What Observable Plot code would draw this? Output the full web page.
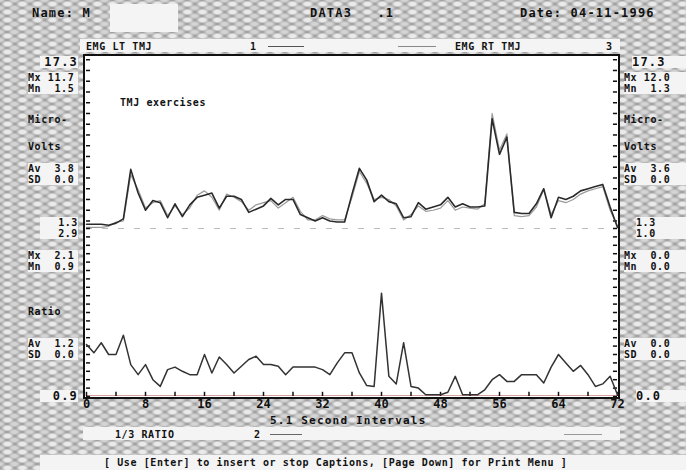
<!DOCTYPE html>
<html><head><meta charset="utf-8">
<script src="https://cdn.jsdelivr.net/npm/d3@7"></script>
<script src="https://cdn.jsdelivr.net/npm/@observablehq/plot@0.6"></script>
<style>
html,body{margin:0;padding:0;background:#a6a6a6;}
#screen{position:relative;width:686px;height:470px;overflow:hidden;
 background-color:#a2a2a2;
 background-image:radial-gradient(ellipse at center, rgba(238,238,238,.95) 0 28%, rgba(238,238,238,0) 62%),
   radial-gradient(ellipse at center, rgba(225,225,225,.8) 0 25%, rgba(225,225,225,0) 60%);
 background-size:15px 8px,15px 8px;background-position:0 0,7px 4px;
 font-family:"DejaVu Sans Mono",monospace;font-weight:bold;color:#111;}
.t{position:absolute;white-space:pre;line-height:1;}
.big{font-size:12px;letter-spacing:1.2px;}
.sm{font-size:10px;letter-spacing:.6px;line-height:11px;}
.wb{background:#f4f4f4;}
#frame{position:absolute;left:83px;top:54px;width:533px;height:341px;border:2px solid #111;background:#fff;}
.plot{position:absolute;left:0;}
</style></head><body>
<div id="screen">
  <div class="t wb" style="left:110px;top:4px;width:68px;height:28px;"></div>
  <div class="t big" style="left:32px;top:7px;">Name: M</div>
  <div class="t big" style="left:310px;top:7px;">DATA3   .1</div>
  <div class="t big" style="left:520px;top:7px;">Date: 04-11-1996</div>

  <div class="t wb" style="left:80px;top:39px;width:540px;height:13px;"></div>
  <div class="t sm" style="left:86px;top:41px;">EMG LT TMJ</div>
  <div class="t sm" style="left:250px;top:41px;">1</div>
  <div class="t" style="left:268px;top:46px;width:36px;border-top:1px solid #555;"></div>
  <div class="t" style="left:398px;top:46px;width:38px;border-top:1px solid #888;"></div>
  <div class="t sm" style="left:455px;top:41px;">EMG RT TMJ</div>
  <div class="t sm" style="left:606px;top:41px;">3</div>

  <div id="frame"></div>
  <div id="upper" class="plot" style="top:56px;"></div>
  <div id="lower" class="plot" style="top:228px;"></div>

  <div class="t sm" style="left:120px;top:97px;">TMJ exercises</div>

  <!-- left side -->
  <div class="t big wb" style="left:40px;top:56px;width:38px;text-align:right;">17.3</div>
  <div class="t sm wb" style="left:28px;top:72px;width:50px;">Mx 11.7
Mn  1.5</div>
  <div class="t sm" style="left:28px;top:114px;">Micro-</div>
  <div class="t sm" style="left:28px;top:141px;">Volts</div>
  <div class="t sm wb" style="left:28px;top:163px;width:50px;">Av  3.8
SD  0.0</div>
  <div class="t sm wb" style="left:40px;top:217px;width:38px;text-align:right;">1.3
2.9</div>
  <div class="t sm wb" style="left:28px;top:250px;width:50px;">Mx  2.1
Mn  0.9</div>
  <div class="t sm" style="left:28px;top:306px;">Ratio</div>
  <div class="t sm wb" style="left:28px;top:338px;width:50px;">Av  1.2
SD  0.0</div>
  <div class="t big wb" style="left:40px;top:390px;width:38px;text-align:right;">0.9</div>

  <!-- right side -->
  <div class="t big wb" style="left:632px;top:56px;width:54px;">17.3</div>
  <div class="t sm wb" style="left:624px;top:72px;width:62px;">Mx 12.0
Mn  1.3</div>
  <div class="t sm" style="left:624px;top:114px;">Micro-</div>
  <div class="t sm" style="left:624px;top:141px;">Volts</div>
  <div class="t sm wb" style="left:624px;top:163px;width:62px;">Av  3.6
SD  0.0</div>
  <div class="t sm wb" style="left:636px;top:217px;width:50px;">1.3
1.0</div>
  <div class="t sm wb" style="left:624px;top:250px;width:62px;">Mx  0.0
Mn  0.0</div>
  <div class="t sm wb" style="left:624px;top:338px;width:62px;">Av  0.0
SD  0.0</div>
  <div class="t big wb" style="left:636px;top:390px;width:50px;">0.0</div>

  <!-- bottom -->
  <div class="t" style="left:270px;top:415px;font-size:11px;letter-spacing:1.2px;">5.1 Second Intervals</div>
  <div class="t wb" style="left:83px;top:427px;width:537px;height:13px;"></div>
  <div class="t sm" style="left:115px;top:429px;">1/3 RATIO</div>
  <div class="t sm" style="left:254px;top:429px;">2</div>
  <div class="t" style="left:270px;top:434px;width:32px;border-top:1px solid #666;"></div>
  <div class="t" style="left:564px;top:434px;width:38px;border-top:1px solid #999;"></div>
  <div class="t wb" style="left:40px;top:455px;width:646px;height:15px;"></div>
  <div class="t sm" style="left:104px;top:457px;">[ Use [Enter] to insert or stop Captions, [Page Down] for Print Menu ]</div>
</div>
<script>
// 5.1-second intervals 0..72
const emgLeft = [1.7,1.7,1.7,1.6,1.8,2.2,6.8,4.6,3.0,3.9,3.7,2.3,3.6,2.4,3.5,4.2,4.4,4.6,3.2,4.3,4.3,4.0,2.8,3.1,3.4,4.1,3.5,4.0,4.0,2.6,2.3,2.0,2.3,2.0,1.9,1.9,4.5,6.9,5.8,3.8,4.4,3.8,3.6,2.3,2.4,3.7,3.1,3.3,3.5,4.2,3.3,3.6,3.3,3.3,3.4,11.5,8.2,9.8,2.8,2.7,2.7,3.6,5.0,2.3,4.2,4.0,4.3,4.8,5.0,5.2,5.4,3.3,1.4];
const emgRight = [1.4,1.4,1.4,1.5,1.9,2.0,6.3,4.9,3.2,3.7,3.9,2.5,3.4,2.6,3.2,4.4,4.8,4.2,3.0,4.5,4.2,3.8,3.0,3.5,3.7,3.9,3.2,3.7,4.2,2.9,2.1,2.1,2.5,2.2,2.1,2.1,4.2,6.6,5.5,4.0,4.2,4.0,3.4,2.1,2.6,3.4,2.9,3.0,3.2,3.9,3.0,3.3,3.2,3.1,3.6,12.0,8.6,10.1,2.5,2.4,2.5,3.3,4.9,2.6,3.9,3.7,4.0,4.5,4.8,5.0,5.2,3.0,1.5];
const ratio = [1.52,1.42,1.54,1.40,1.40,1.63,1.28,1.16,1.28,1.10,1.02,1.22,1.25,1.20,1.16,1.16,1.40,1.18,1.37,1.28,1.18,1.26,1.34,1.38,1.28,1.28,1.26,1.16,1.25,1.25,1.25,1.25,1.22,1.16,1.30,1.42,1.42,1.18,1.03,1.02,2.13,1.14,1.05,1.54,1.02,1.00,0.92,0.92,0.92,0.95,1.14,0.92,0.92,0.92,0.98,1.10,1.16,1.08,1.08,1.16,1.16,1.16,1.06,1.25,1.40,1.30,1.20,1.27,1.16,1.02,1.05,1.14,0.92];
const xTickLabels = [0,8,16,24,32,40,48,56,64,72];
const xMinorTicks = [4,12,20,28,36,44,52,60,68];
const emgDomain = [1.3, 17.3];
const ratioDomain = [0.9, 2.9];

const emgRows = emgLeft.flatMap((v,i)=>[{t:i,v,s:"EMG LT TMJ"},{t:i,v:emgRight[i],s:"EMG RT TMJ"}]);
const ratioRows = ratio.map((v,i)=>({t:i,v}));
const emgTicks = d3.ticks(emgDomain[0], emgDomain[1], 20);
const ratioTicks = d3.ticks(ratioDomain[0], ratioDomain[1], 20);

const common = {width:686, marginLeft:86, marginRight:69, x:{domain:[0,72], axis:null, label:null}, style:{background:"transparent", overflow:"visible"}};

const upper = Plot.plot({
  ...common, height:172, marginTop:0, marginBottom:0,
  y:{domain:emgDomain, axis:null},
  color:{domain:["EMG LT TMJ","EMG RT TMJ"], range:["#2a2a2a","#9a9a9a"]},
  marks:[
    Plot.ruleY([emgDomain[0]], {stroke:"#bbb", strokeDasharray:"6,10", strokeWidth:1}),
    Plot.ruleY(emgTicks, {y:d=>d, x1:0, x2:0.55, stroke:"#111", strokeWidth:1.5}),
    Plot.ruleY(emgTicks, {y:d=>d, x1:71.45, x2:72, stroke:"#111", strokeWidth:1.5}),
    Plot.line(emgRows.filter(d=>d.s==="EMG RT TMJ"), {x:"t", y:"v", stroke:"s", strokeWidth:1.2}),
    Plot.line(emgRows.filter(d=>d.s==="EMG LT TMJ"), {x:"t", y:"v", stroke:"s", strokeWidth:1.6})
  ]
});
document.getElementById("upper").appendChild(upper);

const lower = Plot.plot({
  ...common, height:195, marginTop:0, marginBottom:27,
  y:{domain:ratioDomain, axis:null},
  marks:[
    Plot.ruleY([ratioDomain[0]], {stroke:"#d9a0a0", strokeWidth:1, dy:-1}),
    Plot.ruleY(ratioTicks, {y:d=>d, x1:0, x2:0.55, stroke:"#111", strokeWidth:1.5}),
    Plot.ruleY(ratioTicks, {y:d=>d, x1:71.45, x2:72, stroke:"#111", strokeWidth:1.5}),
    Plot.ruleX(xMinorTicks.concat(xTickLabels), {x:d=>d, y1:ratioDomain[0], y2:ratioDomain[0]+0.05, stroke:"#111", strokeWidth:1.5}),
    Plot.line(ratioRows, {x:"t", y:"v", stroke:"#333", strokeWidth:1.5}),
    Plot.axisX(xTickLabels, {anchor:"bottom", label:null, tickSize:0, tickPadding:3, fontSize:12, fontWeight:"bold", fontFamily:"DejaVu Sans Mono", fill:"#111"})
  ]
});
document.getElementById("lower").appendChild(lower);
</script>
</body></html>
